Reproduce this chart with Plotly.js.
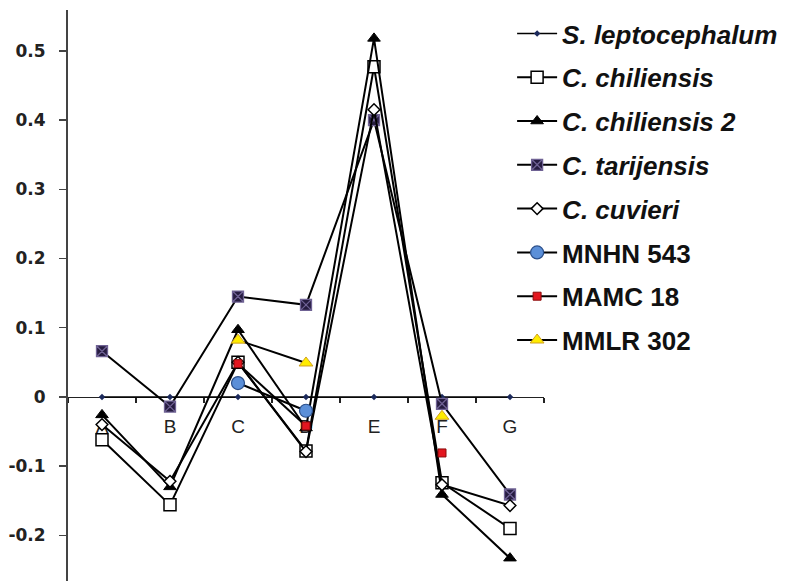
<!DOCTYPE html>
<html>
<head>
<meta charset="utf-8">
<script src="https://cdn.plot.ly/plotly-3.0.1.min.js"></script>
<style>html,body{margin:0;padding:0;background:#fff;}#chart{width:785px;height:581px;}</style>
</head>
<body>
<div id="chart"></div>
<script>
const categories = ["A", "B", "C", "D", "E", "F", "G"];
const sLeptocephalum = [0, 0, 0, 0, 0, 0, 0];
const cChiliensis   = [-0.062, -0.156, 0.050, -0.078, 0.477, -0.124, -0.190];
const cChiliensis2  = [-0.026, -0.130, 0.097, -0.045, 0.518, -0.141, -0.233];
const cTarijensis   = [0.066, -0.014, 0.145, 0.133, 0.400, -0.010, -0.141];
const cCuvieri      = [-0.040, -0.122, 0.050, -0.079, 0.415, -0.127, -0.157];
const mnhn543       = [null, null, 0.020, -0.020, null, null, null];
const mamc18        = [null, null, 0.048, -0.042, null, -0.081, null];
const mmlr302       = [null, null, 0.082, 0.049, null, -0.028, null];
const seriesNames = ["<i>S. leptocephalum</i>", "<i>C. chiliensis</i>", "<i>C. chiliensis 2</i>",
  "<i>C. tarijensis</i>", "<i>C. cuvieri</i>", "MNHN 543", "MAMC 18", "MMLR 302"];
const yTickVals = [-0.2, -0.1, 0, 0.1, 0.2, 0.3, 0.4, 0.5];
const yTickText = ["-0.2", "-0.1", "0", "0.1", "0.2", "0.3", "0.4", "0.5"];

const seriesValues = [sLeptocephalum, cChiliensis, cChiliensis2, cTarijensis, cCuvieri, mnhn543, mamc18, mmlr302];
const markers = [
  {symbol: "diamond", size: 5, color: "#1c2a5c", line: {width: 0}},
  {symbol: "square", size: 12, color: "#ffffff", line: {width: 1.5, color: "#000"}},
  {symbol: "triangle-up", size: 11, color: "#000000", line: {width: 1, color: "#000"}},
  {symbol: "square-x", size: 11, color: "#261c40", line: {width: 1.3, color: "#6f6294"}},
  {symbol: "diamond", size: 9, color: "#ffffff", line: {width: 1.5, color: "#000"}},
  {symbol: "circle", size: 13, color: "#5b8fd8", line: {width: 1.2, color: "#2b4f8a"}},
  {symbol: "square", size: 8, color: "#e3161f", line: {width: 1, color: "#8a0a0a"}},
  {symbol: "triangle-up", size: 12, color: "#ffec00", line: {width: 1, color: "#d0a020"}}
];
const lineWidths = [1.5, 2, 2, 2, 2, 2, 2, 2];

const traces = seriesValues.map((vals, i) => ({
  type: "scatter",
  mode: "lines+markers",
  x: categories,
  y: vals,
  name: seriesNames[i],
  legendgroup: "g" + i,
  connectgaps: false,
  line: {color: "#000", width: lineWidths[i]},
  marker: markers[i],
  cliponaxis: false
}));

const yMin = -0.266, yMax = 0.559;
const layout = {
  width: 785, height: 581,
  margin: {l: 68, r: 241, t: 10, b: 0},
  paper_bgcolor: "#fff", plot_bgcolor: "#fff",
  showlegend: true,
  legend: {
    x: 0.933, xanchor: "left", y: 1.0, yanchor: "top",
    bgcolor: "rgba(0,0,0,0)", borderwidth: 0,
    tracegroupgap: 7, itemwidth: 40,
    font: {family: "Liberation Sans, Arial, sans-serif", size: 26, color: "#111", weight: "bold"}
  },
  xaxis: {
    type: "category",
    range: [-0.5, 6.5],
    anchor: "free",
    position: (0 - yMin) / (yMax - yMin),
    showline: true, linecolor: "#222", linewidth: 1.5,
    ticks: "outside", tickson: "boundaries", ticklen: 5, tickcolor: "#222", tickwidth: 1.2,
    showgrid: false, zeroline: false,
    tickfont: {family: "Liberation Sans, Arial, sans-serif", size: 19, color: "#222"},
    ticklabelstandoff: 12,
    layer: "below traces",
    fixedrange: true
  },
  yaxis: {
    range: [yMin, yMax],
    showline: true, linecolor: "#444", linewidth: 2,
    ticks: "outside", ticklen: 7, tickcolor: "#444", tickwidth: 1.5,
    tickvals: yTickVals, ticktext: yTickText,
    showgrid: false, zeroline: false,
    tickfont: {family: "DejaVu Sans, sans-serif", size: 17, color: "#222", weight: "bold"},
    ticklabelstandoff: 10,
    fixedrange: true
  }
};

Plotly.newPlot("chart", traces, layout, {staticPlot: true, displayModeBar: false});
</script>
</body>
</html>
